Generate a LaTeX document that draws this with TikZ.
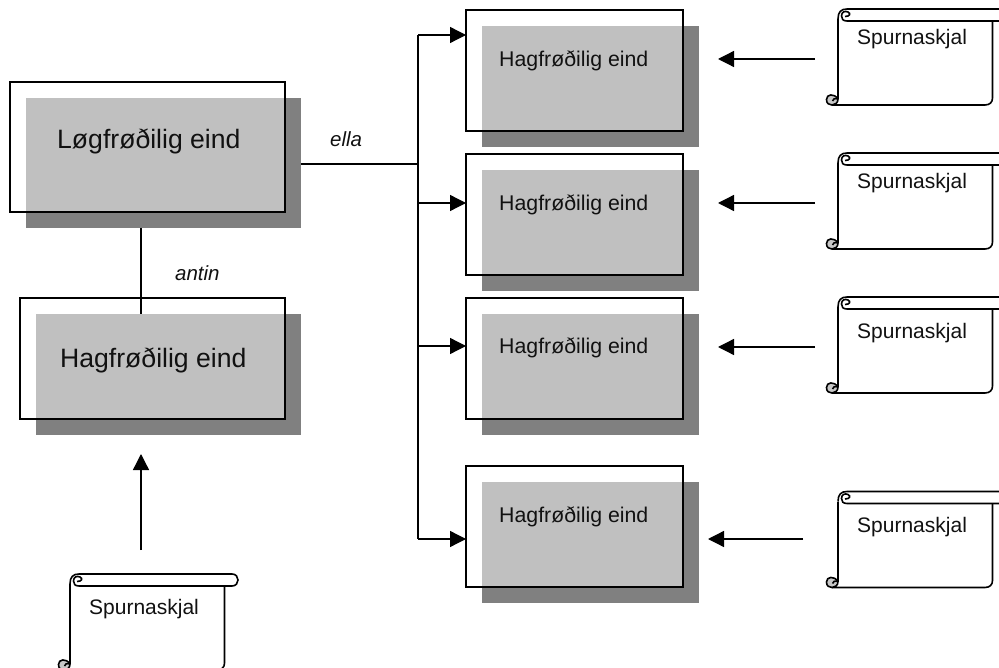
\documentclass[tikz,border=0pt]{standalone}
\usepackage{fontspec}
\setmainfont{Liberation Sans}
\usetikzlibrary{arrows.meta,calc}
\tikzset{
 x=1pt,y=-1pt,
 shadowbox/.style={fill=shadowgray,draw=none,inner sep=0pt,outer sep=0pt,minimum width=#1,anchor=north west},
 outline/.style={draw=black,line width=1.4pt,fill=none,inner sep=0pt,outer sep=0pt,minimum width=#1,anchor=north west},
 conn/.style={line width=1.3pt,draw=black},
 arrowconn/.style={conn,-{Triangle[length=16pt,width=16pt]}},
 boxlabel/.style={anchor=base west,inner sep=0pt,text=textblack,font=\fontsize{#1}{#1}\selectfont},
 scrollline/.style={line width=1.6pt,draw=black},
 italiclabel/.style={anchor=base west,inner sep=0pt,text=textblack,font=\fontsize{20.5}{21}\selectfont\itshape}
}
\definecolor{shadowgray}{HTML}{808080}
\definecolor{facegray}{HTML}{C0C0C0}
\definecolor{curlgray}{HTML}{C8C8C8}
\definecolor{textblack}{HTML}{111111}
% #1 name, #2 x, #3 top outline y, #4 width, #5 height, #6 label x, #7 label baseline y, #8 font size, #9 text
\newcommand{\unitbox}[9]{%
 \node[shadowbox=#4,minimum height=#5] (#1s) at (#2+16,#3+16) {};
 \node[fill=facegray,inner sep=0pt,outer sep=0pt,minimum width=#4-16,minimum height=#5-16,anchor=north west] (#1f) at (#2+16,#3+16) {};
 \node[outline=#4,minimum height=#5] (#1) at (#2,#3) {};
 \node[boxlabel=#8] (#1t) at (#6,#7) {#9};
}
% #1 x0, #2 top
\newcommand{\scrollshape}[2]{%
 \begin{scope}[shift={(#1,#2)}]
  \clip (-20,-5) rectangle (169,104);
  \draw[scrollline] (0,10) .. controls (0,3) and (3,0) .. (9,0) -- (162,0)
     .. controls (170,0) and (170,12) .. (162,12) -- (9,12);
  \draw[scrollline] (9,12) .. controls (5,12) and (3.5,10) .. (3.5,7)
     .. controls (3.5,3) and (7,1.5) .. (10,3) .. controls (13,4.5) and (12,7.5) .. (7,7.5);
  \draw[scrollline] (0,10) -- (0,90);
  \draw[scrollline] (-6,96) -- (147,96)
     .. controls (152,96) and (154.5,93) .. (154.5,89) -- (154.5,12);
  \filldraw[scrollline,fill=curlgray] (0,90) .. controls (-4,84) and (-11.5,85) .. (-11.5,90.5)
     .. controls (-11.5,94.5) and (-9,96) .. (-6,96)
     .. controls (-3,96) and (0,94) .. (0,90);
  \draw[scrollline] (0,90) .. controls (-3,89) and (-5.5,90) .. (-5.5,92);
 \end{scope}
}
\begin{document}
\begin{tikzpicture}
\useasboundingbox (0,0) rectangle (999,668);
\unitbox{main}{10}{82}{275}{130}{57}{149}{26.6}{Løgfrøðilig eind}
\unitbox{left}{20}{298}{265}{121}{60}{367}{26.6}{Hagfrøðilig eind}
\unitbox{ra}{466}{10}{217}{121}{499}{67}{21.3}{Hagfrøðilig eind}
\unitbox{rb}{466}{154}{217}{121}{499}{211}{21.3}{Hagfrøðilig eind}
\unitbox{rc}{466}{298}{217}{121}{499}{354}{21.3}{Hagfrøðilig eind}
\unitbox{rd}{466}{466}{217}{121}{499}{522}{21.3}{Hagfrøðilig eind}

\scrollshape{838}{9}
\scrollshape{838}{153}
\scrollshape{838}{297}
\scrollshape{838}{491.5}
\scrollshape{70}{574}

\node[boxlabel=21] (sat) at (857,45) {Spurnaskjal};
\node[boxlabel=21] (sbt) at (857,189) {Spurnaskjal};
\node[boxlabel=21] (sct) at (857,338) {Spurnaskjal};
\node[boxlabel=21] (sdt) at (857,532) {Spurnaskjal};
\node[boxlabel=21] (set) at (89,614) {Spurnaskjal};

\node[italiclabel] (lella) at (330,147) {ella};
\node[italiclabel] (lantin) at (175,281) {antin};

\coordinate (junction) at (418,164);
\coordinate (trunktop) at (418,35);
\coordinate (trunkbottom) at (418,539);
\coordinate (tb) at (418,203);
\coordinate (tc) at (418,346);
\coordinate (fa) at (815,59);
\coordinate (fb) at (815,203);
\coordinate (fc) at (815,347);
\coordinate (fd) at (803,539);
\coordinate (fe) at (141,550);
\coordinate (ta) at (718,59);
\coordinate (tbb) at (718,203);
\coordinate (tcc) at (718,347);
\coordinate (tdd) at (708,539);
\coordinate (tee) at (141,454);

\draw[conn] (mains.south -| 141,228) -- (lefts.north -| 141,315);
\draw[conn] (mains.east |- junction) -- (junction);
\draw[conn] (trunktop) -- (trunkbottom);
\draw[arrowconn] (trunktop) -- (trunktop -| ra.west);
\draw[arrowconn] (tb) -- (tb -| rb.west);
\draw[arrowconn] (tc) -- (tc -| rc.west);
\draw[arrowconn] (trunkbottom) -- (trunkbottom -| rd.west);
\draw[arrowconn] (fa) -- (ta);
\draw[arrowconn] (fb) -- (tbb);
\draw[arrowconn] (fc) -- (tcc);
\draw[arrowconn] (fd) -- (tdd);
\draw[arrowconn] (fe) -- (tee);
\end{tikzpicture}
\end{document}
